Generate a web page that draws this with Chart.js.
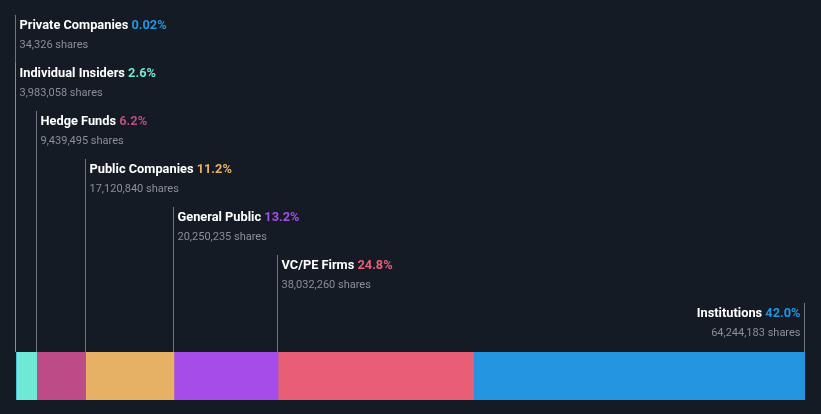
<!DOCTYPE html>
<html>
<head>
<meta charset="utf-8">
<script src="https://cdn.jsdelivr.net/npm/chart.js@4/dist/chart.umd.min.js"></script>
<style>
html,body{margin:0;padding:0;background:#151b25;}
#wrap{width:821px;height:414px;position:relative;}
</style>
</head>
<body>
<div id="wrap"><canvas id="c" width="821" height="414"></canvas></div>
<script>
const categories = ["Private Companies","Individual Insiders","Hedge Funds","Public Companies","General Public","VC/PE Firms","Institutions"];
const percents = [0.02, 2.6, 6.2, 11.2, 13.2, 24.8, 42.0];
const percentLabels = ["0.02%","2.6%","6.2%","11.2%","13.2%","24.8%","42.0%"];
const shareLabels = ["34,326 shares","3,983,058 shares","9,439,495 shares","17,120,840 shares","20,250,235 shares","38,032,260 shares","64,244,183 shares"];
const colors = ["#2394df","#6fe8d6","#bc4b87","#e6b165","#a54de9","#e85e76","#2394df"];

const total = percents.reduce((a,b)=>a+b,0);

const labelPlugin = {
  id: 'labelPlugin',
  afterDatasetsDraw(chart){
    const ctx = chart.ctx;
    const xs = chart.scales.x;
    const area = chart.chartArea;
    let cum = 0;
    const n = categories.length;
    for(let i=0;i<n;i++){
      const startVal = cum;
      cum += percents[i];
      const last = (i===n-1);
      let lx = last ? xs.getPixelForValue(cum) : xs.getPixelForValue(startVal);
      lx = Math.round(lx) - 0.5;
      const baseline = 29 + i*48;
      const lineTop = baseline - 14;
      ctx.save();
      ctx.strokeStyle = 'rgba(150,155,165,0.7)';
      ctx.lineWidth = 1;
      ctx.beginPath();
      ctx.moveTo(lx, lineTop);
      ctx.lineTo(lx, area.top);
      ctx.stroke();
      ctx.textBaseline = 'alphabetic';
      const titleFont = 'bold 12.8px Roboto, "Open Sans", sans-serif';
      const subFont = '11px Roboto, "Open Sans", sans-serif';
      ctx.font = titleFont;
      const t1 = categories[i] + ' ';
      const w1 = ctx.measureText(t1).width;
      const w2 = ctx.measureText(percentLabels[i]).width;
      if(!last){
        const tx = lx + 4;
        ctx.textAlign = 'left';
        ctx.fillStyle = '#ffffff';
        ctx.fillText(t1, tx, baseline);
        ctx.fillStyle = colors[i];
        ctx.fillText(percentLabels[i], tx + w1, baseline);
        ctx.font = subFont;
        ctx.fillStyle = '#8b8f96';
        ctx.fillText(shareLabels[i], tx, baseline + 19);
      } else {
        const tx = lx - 4;
        ctx.textAlign = 'left';
        ctx.fillStyle = '#ffffff';
        ctx.fillText(t1, tx - w1 - w2, baseline);
        ctx.fillStyle = colors[i];
        ctx.fillText(percentLabels[i], tx - w2, baseline);
        ctx.font = subFont;
        ctx.textAlign = 'right';
        ctx.fillStyle = '#8b8f96';
        ctx.fillText(shareLabels[i], tx, baseline + 19);
      }
      ctx.restore();
    }
  }
};

new Chart(document.getElementById('c'), {
  type: 'bar',
  data: {
    labels: ['Ownership'],
    datasets: categories.map((c,i)=>({
      label: c,
      data: [percents[i]],
      backgroundColor: colors[i],
      borderWidth: 0,
      categoryPercentage: 1,
      barPercentage: 1
    }))
  },
  options: {
    indexAxis: 'y',
    responsive: false,
    animation: false,
    maintainAspectRatio: false,
    layout: { padding: { left: 16, right: 16, top: 352, bottom: 14 } },
    plugins: { legend: { display: false }, tooltip: { enabled: false } },
    scales: {
      x: { stacked: true, display: false, min: 0, max: total },
      y: { stacked: true, display: false }
    }
  },
  plugins: [labelPlugin]
});
</script>
</body>
</html>
